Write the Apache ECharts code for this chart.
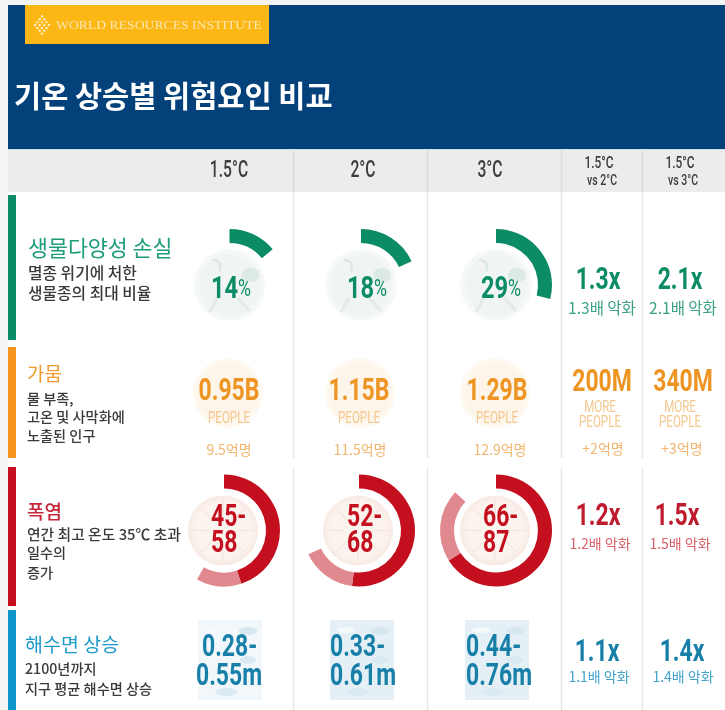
<!DOCTYPE html>
<html>
<head>
<meta charset="utf-8">
<style>
  html, body { margin: 0; padding: 0; background: #f4f4f4; }
  #main { width: 725px; height: 710px; filter: blur(0.5px); }
</style>
</head>
<body>
<div id="main"></div>
<script src="https://cdn.jsdelivr.net/npm/echarts@6/dist/echarts.min.js"></script>
<script>
// values
const tempColumns = ['1.5°C', '2°C', '3°C'];
const compareTop = ['1.5°C', '1.5°C'];
const compareBottom = ['vs 2°C', 'vs 3°C'];

const bioPercent = [14, 18, 29];
const bioRatio = ['1.3x', '2.1x'];
const bioRatioKo = ['1.3배 악화', '2.1배 악화'];

const droughtPeople = ['0.95B', '1.15B', '1.29B'];
const droughtKo = ['9.5억명', '11.5억명', '12.9억명'];
const droughtMore = ['200M', '340M'];
const droughtMoreKo = ['+2억명', '+3억명'];

const heatLow = [45, 52, 66];
const heatHigh = [58, 68, 87];
const heatRatio = ['1.2x', '1.5x'];
const heatRatioKo = ['1.2배 악화', '1.5배 악화'];

const seaLow = ['0.28', '0.33', '0.44'];
const seaHigh = ['0.55', '0.61', '0.76'];
const seaRatio = ['1.1x', '1.4x'];
const seaRatioKo = ['1.1배 악화', '1.4배 악화'];

// colours
const NAVY = '#03417b', GOLD = '#fdb714';
const GREEN = '#0b8c66', GREEN2 = '#3b9f85', GREEN3 = '#1f9c7b';
const ORANGE = '#ee9422', ORANGE2 = '#f4c78f', ORANGE3 = '#f1b56d';
const RED = '#c4101e', RED2 = '#e08a90', RED3 = '#d8616b';
const BLUE = '#187fa9', BLUE2 = '#43a3c9', BLUE3 = '#1b9bca';

const KR = "'Noto Sans CJK KR'";
const ROBOTO = 'Roboto';
const els = [];

function text(x, y, str, font, fill, align) {
  els.push({
    type: 'text', silent: true,
    style: { x: x, y: y, text: str, font: font, fill: fill, textAlign: align || 'center', textVerticalAlign: 'middle' }
  });
}
// no condensed font installed, so squeeze Roboto sideways
function narrow(x, y, str, font, fill, align, sx) {
  els.push({
    type: 'text', silent: true, x: x, y: y + 1.5, scaleX: sx || 0.74,
    style: { x: 0, y: 0, text: str, font: font, fill: fill, textAlign: align || 'center', textVerticalAlign: 'middle' }
  });
}
function rect(x, y, w, h, fill) {
  els.push({ type: 'rect', silent: true, shape: { x: x, y: y, width: w, height: h }, style: { fill: fill } });
}
function line(x1, y1, x2, y2, stroke, w) {
  els.push({ type: 'line', silent: true, shape: { x1: x1, y1: y1, x2: x2, y2: y2 }, style: { stroke: stroke, lineWidth: w || 1 } });
}
function disc(cx, cy, r, inner, outer) {
  els.push({
    type: 'circle', silent: true, shape: { cx: cx, cy: cy, r: r },
    style: { fill: new echarts.graphic.RadialGradient(0.5, 0.5, 0.5, [{ offset: 0, color: inner }, { offset: 0.8, color: inner }, { offset: 1, color: outer }]) }
  });
}
function blob(cx, cy, rx, ry, fill) {
  els.push({ type: 'ellipse', silent: true, shape: { cx: cx, cy: cy, rx: rx, ry: ry }, style: { fill: fill } });
}

// page + header
rect(8, 150, 717, 560, '#ffffff');
rect(8, 5, 717, 144, NAVY);
rect(25, 5, 244, 39, GOLD);
rect(8, 149, 717, 1, '#cfe0ea');
rect(8, 150, 717, 42, '#ececec');

// logo made of small dots in a diamond
for (let i = -3; i <= 3; i++) {
  for (let j = -3 + Math.abs(i); j <= 3 - Math.abs(i); j += 2) {
    els.push({ type: 'circle', silent: true, shape: { cx: 42 + i * 2.3, cy: 25 + j * 2.9, r: 1.2 }, style: { fill: '#fdeec4' } });
  }
}
narrow(56, 24.5, 'WORLD RESOURCES INSTITUTE', "12px 'Liberation Serif'", '#fbe6b4', 'left', 1.14);
text(14, 96, '기온 상승별 위험요인 비교', 'bold 29.5px ' + KR, '#ffffff', 'left');

// column dividers
[293.5, 427.5, 561.5, 642.5].forEach(function (x) {
  line(x, 150, x, 192, '#dcdcdc', 1.5);
  line(x, 192, x, 458, '#e6e6e6', 1.5);
  line(x, 468, x, 710, '#e6e6e6', 1.5);
});

// header labels
const headX = [229, 363, 490];
tempColumns.forEach(function (t, i) { narrow(headX[i], 170, t, '500 23px ' + ROBOTO, '#3c3c3c', 'center', 0.68); });
const cmpX = [599, 680];
compareTop.forEach(function (t, i) {
  narrow(cmpX[i], 162, t, '500 17px ' + ROBOTO, '#3c3c3c', 'center', 0.7);
  narrow(cmpX[i] + 3, 180, compareBottom[i], '500 15px ' + ROBOTO, '#3c3c3c', 'center', 0.7);
});

// row colour bars
rect(8, 195, 8, 145, GREEN);
rect(8, 347, 8, 111, '#f7941e');
rect(8, 467, 8, 139, RED);
rect(8, 610, 8, 100, '#0e95c9');

// row titles
text(28, 248, '생물다양성 손실', '21.7px ' + KR, GREEN3, 'left');
text(28, 273, '멸종 위기에 처한', '500 15.8px ' + KR, '#3a3a3a', 'left');
text(28, 293, '생물종의 최대 비율', '500 15.8px ' + KR, '#3a3a3a', 'left');

text(27, 374, '가뭄', '19px ' + KR, '#f09a2c', 'left');
text(27, 399, '물 부족,', '500 14.2px ' + KR, '#3a3a3a', 'left');
text(27, 417, '고온 및 사막화에', '500 14.2px ' + KR, '#3a3a3a', 'left');
text(27, 436, '노출된 인구', '500 14.2px ' + KR, '#3a3a3a', 'left');

text(27, 512, '폭염', '500 19px ' + KR, '#c4283a', 'left');
text(27, 534, '연간 최고 온도 35℃ 초과', '500 14.8px ' + KR, '#3a3a3a', 'left');
text(27, 553, '일수의', '500 14.2px ' + KR, '#3a3a3a', 'left');
text(27, 573, '증가', '500 14.2px ' + KR, '#3a3a3a', 'left');

text(25, 645, '해수면 상승', '19.5px ' + KR, BLUE3, 'left');
text(25, 669, '2100년까지', '500 14.2px ' + KR, '#3a3a3a', 'left');
text(25, 689, '지구 평균 해수면 상승', '500 14.2px ' + KR, '#3a3a3a', 'left');

const BIG = 'bold 31px ' + ROBOTO;
const SMALL = '17px ' + ROBOTO;

// biodiversity discs with a faint monkey shape
const bioX = [229.5, 361, 496];
const bioTextX = [231, 367, 501];
bioPercent.forEach(function (v, i) {
  const x = bioX[i];
  disc(x, 285, 36, '#f0f5f3', '#f7faf9');
  els.push({ type: 'arc', silent: true, shape: { cx: x - 16, cy: 267, r: 7, startAngle: 0.6, endAngle: 4.6, clockwise: false }, style: { stroke: '#dbe7e3', lineWidth: 2.5, fill: 'none' } });
  blob(x + 21, 275, 9, 7, '#dde9e5');
  line(x - 12, 298, x - 20, 312, '#e1ebe7', 3);
  line(x + 8, 298, x + 20, 311, '#e1ebe7', 3);
  narrow(bioTextX[i], 288, '{a|' + v + '}{b|%}', '', GREEN, 'center', 0.74);
  els[els.length - 1].style.rich = { a: { font: 'bold 32px ' + ROBOTO, fill: GREEN }, b: { font: '24px ' + ROBOTO, fill: GREEN } };
});
narrow(598, 280, bioRatio[0], BIG, GREEN);
narrow(680, 280, bioRatio[1], BIG, GREEN);
text(602, 308, bioRatioKo[0], '15.5px ' + KR, GREEN2);
text(683, 308, bioRatioKo[1], '15.5px ' + KR, GREEN2);

// drought
const dropX = [228, 360, 495];
const dropTextX = [229, 359, 497];
const dropKoX = [229, 360, 500];
droughtPeople.forEach(function (v, i) {
  disc(dropX[i], 393, 35, '#fdf5e9', '#fefaf3');
  narrow(dropTextX[i], 391, v, BIG, ORANGE);
  narrow(dropTextX[i], 417.5, 'PEOPLE', SMALL, ORANGE2, 'center', 0.68);
  text(dropKoX[i], 450, droughtKo[i], '14px ' + KR, ORANGE3);
});
const moreX = [602, 683];
const moreSubX = [600, 680];
const moreKoX = [603, 682];
droughtMore.forEach(function (v, i) {
  narrow(moreX[i], 382, v, BIG, ORANGE);
  narrow(moreSubX[i], 406.5, 'MORE', SMALL, ORANGE2, 'center', 0.68);
  narrow(moreSubX[i], 421.5, 'PEOPLE', SMALL, ORANGE2, 'center', 0.68);
  text(moreKoX[i], 449, droughtMoreKo[i], '14px ' + KR, ORANGE3);
});

// heat discs with sun spokes
const heatX = [224, 359, 496];
const heatTextX = [211, 347, 483];
heatLow.forEach(function (v, i) {
  const x = heatX[i] - 1;
  disc(x, 530.5, 35, '#fbf3ee', '#f8e9e2');
  for (let a = 0; a < 8; a++) {
    const ang = a * Math.PI / 4;
    line(x + Math.cos(ang) * 14, 530.5 + Math.sin(ang) * 14, x + Math.cos(ang) * 31, 530.5 + Math.sin(ang) * 31, '#f6e4dc', 1.2);
  }
  narrow(heatTextX[i], 517, v + '-', BIG, RED, 'left');
  narrow(heatTextX[i], 543, String(heatHigh[i]), BIG, RED, 'left');
});
narrow(598, 516, heatRatio[0], BIG, '#bf1a2d');
narrow(677, 516, heatRatio[1], BIG, '#bf1a2d');
text(600, 544, heatRatioKo[0], '14px ' + KR, RED3);
text(680, 544, heatRatioKo[1], '14px ' + KR, RED3);

// sea level blocks
const seaBox = [[198, '#f1f7fa'], [330, '#e5f0f6'], [465, '#e5f0f6']];
seaBox.forEach(function (b) {
  rect(b[0], 620, 64, 80, b[1]);
  blob(b[0] + 16, 630, 9, 3, '#f4f9fb');
  blob(b[0] + 50, 631, 9, 4, '#d6e7f0');
  blob(b[0] + 50, 660, 8, 4, '#dbeaf2');
  blob(b[0] + 28, 692, 11, 4, '#dbeaf2');
});
const seaXTop = [202, 330, 466];
const seaXBottom = [196, 330, 466];
seaLow.forEach(function (v, i) {
  narrow(seaXTop[i], 647, v + '-', BIG, BLUE, 'left');
  narrow(seaXBottom[i], 676, seaHigh[i] + 'm', BIG, BLUE, 'left');
});
narrow(597, 652, seaRatio[0], BIG, BLUE);
narrow(682, 652, seaRatio[1], BIG, BLUE);
text(599, 677, seaRatioKo[0], '14px ' + KR, BLUE2);
text(683, 677, seaRatioKo[1], '14px ' + KR, BLUE2);

// rings drawn as pies on a 0-100 scale
const EMPTY = 'rgba(0,0,0,0)';
function ring(cx, cy, slices) {
  return {
    type: 'pie', silent: true, animation: false,
    center: [cx, cy], radius: [42, 56], startAngle: 90,
    label: { show: false }, labelLine: { show: false },
    data: slices
  };
}
const series = [];
bioPercent.forEach(function (v, i) {
  series.push(ring(bioX[i], 285, [
    { value: v, itemStyle: { color: GREEN } },
    { value: 100 - v, itemStyle: { color: EMPTY } }
  ]));
});
heatLow.forEach(function (v, i) {
  series.push(ring(heatX[i], 530.5, [
    { value: v, itemStyle: { color: RED } },
    { value: heatHigh[i] - v, itemStyle: { color: RED2 } },
    { value: 100 - heatHigh[i], itemStyle: { color: EMPTY } }
  ]));
});

const myChart = echarts.init(document.getElementById('main'), null, { renderer: 'canvas' });
myChart.setOption({
  animation: false,
  backgroundColor: '#f4f4f4',
  graphic: { elements: els },
  series: series
});
</script>
</body>
</html>
